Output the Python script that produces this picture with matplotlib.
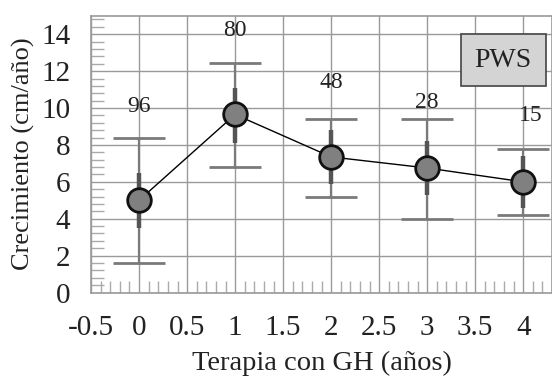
import matplotlib
matplotlib.use("Agg")
import matplotlib.pyplot as plt
from matplotlib.ticker import MultipleLocator

years = [0, 1, 2, 3, 4]
growth = [5.0, 9.65, 7.35, 6.75, 6.0]
err_low = [1.6, 6.8, 5.2, 4.0, 4.2]
err_high = [8.4, 12.45, 9.4, 9.4, 7.8]
inner_low = [3.5, 8.1, 5.9, 5.3, 4.6]
inner_high = [6.5, 11.1, 8.8, 8.2, 7.4]
n_labels = ["96", "80", "48", "28", "15"]
n_y = [10.1, 14.2, 11.4, 10.3, 9.6]
n_x = [0, 1, 2, 3, 4.08]

plt.rcParams['font.family'] = ['Liberation Serif', 'DejaVu Serif']

fig = plt.figure(figsize=(5.52, 3.76), dpi=100)
ax = fig.add_axes([0.165, 0.222, 0.835, 0.736])

ax.set_xlim(-0.5, 4.3)
ax.set_ylim(0, 15)
ax.xaxis.set_minor_locator(MultipleLocator(0.1))
ax.yaxis.set_minor_locator(MultipleLocator(0.4))
ax.set_xticks([-0.5, 0, 0.5, 1, 1.5, 2, 2.5, 3, 3.5, 4])
ax.set_xticklabels(["-0.5", "0", "0.5", "1", "1.5", "2", "2.5", "3", "3.5", "4"])
ax.set_yticks([0, 2, 4, 6, 8, 10, 12, 14])
ax.grid(True, which='major', color='#9a9a9a', lw=1.0)
ax.set_axisbelow(True)
for s in ax.spines.values():
    s.set_color('#9a9a9a')
    s.set_linewidth(1.2)
ax.tick_params(which='major', length=0, labelsize=21, colors='#222222')
ax.tick_params(axis='x', which='major', pad=16)
ax.tick_params(axis='y', which='major', pad=15)
ax.tick_params(which='minor', direction='in', length=9, color='#aaaaaa', width=1)

lo = [g - l for g, l in zip(growth, err_low)]
hi = [h - g for g, h in zip(growth, err_high)]
ax.errorbar(years, growth, yerr=[lo, hi], fmt='none', ecolor='#7a7a7a',
            elinewidth=1.6, capsize=19, capthick=2.0, zorder=3)
ilo = [g - l for g, l in zip(growth, inner_low)]
ihi = [h - g for g, h in zip(growth, inner_high)]
ax.errorbar(years, growth, yerr=[ilo, ihi], fmt='none', ecolor='#555555',
            elinewidth=3.2, capsize=0, zorder=3.5)
ax.plot(years, growth, color='black', lw=1.0, marker='o', markersize=17,
        markerfacecolor='#808080', markeredgecolor='#111111', markeredgewidth=2.0,
        zorder=4)

for x, y, t in zip(n_x, n_y, n_labels):
    ax.text(x, y, t, ha='center', va='center', fontsize=17, color='#222222', zorder=5)

ax.text(3.79, 12.6, "PWS", ha='center', va='center', fontsize=20, color='#222222',
        bbox=dict(boxstyle='square,pad=0.5', facecolor='#d4d4d4', edgecolor='#444444', lw=1.2),
        zorder=6)

ax.set_xlabel("Terapia con GH (años)", fontsize=20.5, color='#222222', labelpad=7)
ax.set_ylabel("Crecimiento (cm/año)", fontsize=19, color='#222222', labelpad=4)

fig.savefig("out.png", dpi=100)
